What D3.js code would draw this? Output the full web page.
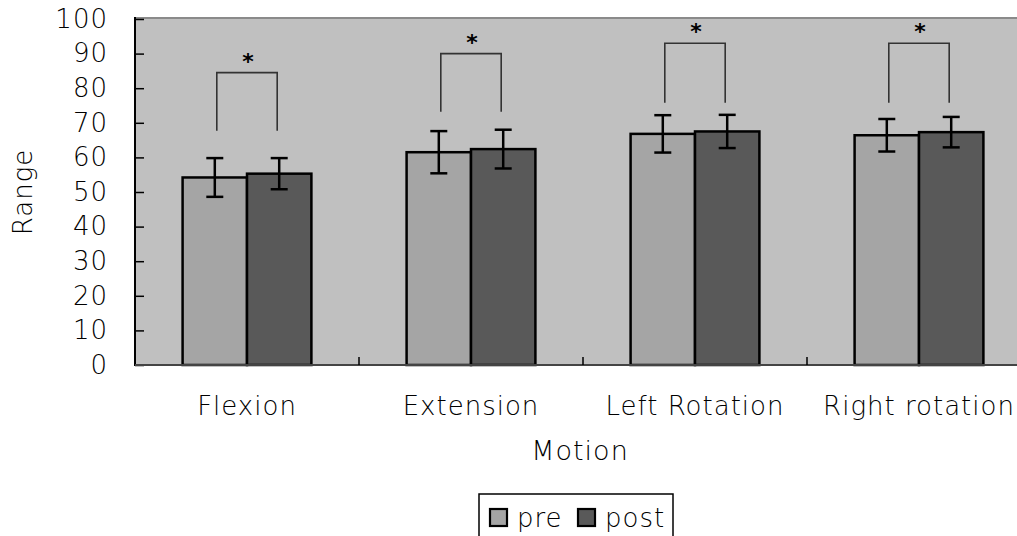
<!DOCTYPE html>
<html><head><meta charset="utf-8">
<script src="https://cdn.jsdelivr.net/npm/d3@7"></script>
<style>
html,body{margin:0;padding:0;background:#fff;overflow:hidden}
text{font-family:"DejaVu Sans",sans-serif;fill:#000;font-weight:200;letter-spacing:1px}
</style></head>
<body><svg id="c" width="1017" height="536"></svg>
<script>
const categories = ["Flexion","Extension","Left Rotation","Right rotation"];
const series = ["pre","post"];
const preMean = [54.2, 61.5, 66.8, 66.4];
const preSD   = [5.6, 6.1, 5.4, 4.7];
const postMean = [55.3, 62.4, 67.5, 67.3];
const postSD   = [4.5, 5.6, 4.8, 4.4];
const bracketTop = [84.5, 90, 93, 93];
const bracketLeg = [67.7, 73.2, 75.8, 75.8];
const yTicks = [0,10,20,30,40,50,60,70,80,90,100];
const colors = {pre:"#a5a5a5", post:"#595959"};

const svg = d3.select("#c");
const L = 135, R = 1031, T = 19, B = 365;
const x0 = d3.scaleBand().domain(categories).range([L, R]).padding(0);
const bw = x0.bandwidth();
const x1 = d3.scaleBand().domain(series).range([bw*0.2125, bw*0.7875]).padding(0);
const y = d3.scaleLinear().domain([0,100]).range([B, T]);

svg.append("rect").attr("x", L).attr("y", T).attr("width", R-L).attr("height", B-T).attr("fill", "#c0c0c0");
svg.append("line").attr("x1", L).attr("x2", R).attr("y1", T-1).attr("y2", T-1).attr("stroke", "#8a8a8a").attr("stroke-width", 2);

const data = categories.map((c,i)=>({c, vals:[
  {s:"pre", m:preMean[i], sd:preSD[i]},
  {s:"post", m:postMean[i], sd:postSD[i]}]}));

const g = svg.selectAll("g.grp").data(data).join("g").attr("class","grp")
  .attr("transform", d=>`translate(${x0(d.c)},0)`);

g.selectAll("rect").data(d=>d.vals).join("rect")
  .attr("x", d=>x1(d.s)).attr("width", x1.bandwidth())
  .attr("y", d=>y(d.m)).attr("height", d=>y(0)-y(d.m))
  .attr("fill", d=>colors[d.s]).attr("stroke", "#000").attr("stroke-width", 2.5);

const eb = g.selectAll("g.eb").data(d=>d.vals).join("g").attr("class","eb")
  .attr("stroke","#000").attr("stroke-width",2.5);
eb.append("line").attr("x1", d=>x1(d.s)+x1.bandwidth()/2).attr("x2", d=>x1(d.s)+x1.bandwidth()/2)
  .attr("y1", d=>y(d.m+d.sd)).attr("y2", d=>y(d.m-d.sd));
eb.append("line").attr("x1", d=>x1(d.s)+x1.bandwidth()/2-8.5).attr("x2", d=>x1(d.s)+x1.bandwidth()/2+8.5)
  .attr("y1", d=>y(d.m+d.sd)).attr("y2", d=>y(d.m+d.sd));
eb.append("line").attr("x1", d=>x1(d.s)+x1.bandwidth()/2-8.5).attr("x2", d=>x1(d.s)+x1.bandwidth()/2+8.5)
  .attr("y1", d=>y(d.m-d.sd)).attr("y2", d=>y(d.m-d.sd));

categories.forEach((c,i)=>{
  const xa = x0(c) + x1("pre") + x1.bandwidth()/2 + 2;
  const xb = x0(c) + x1("post") + x1.bandwidth()/2 - 2;
  svg.append("path")
    .attr("d", `M${xa},${y(bracketLeg[i])}V${y(bracketTop[i])}H${xb}V${y(bracketLeg[i])}`)
    .attr("fill","none").attr("stroke","#333").attr("stroke-width",1.6);
  svg.append("text").attr("x", (xa+xb)/2 + 1).attr("y", y(bracketTop[i]) - 4)
    .attr("text-anchor","middle").attr("font-size", 22).style("font-weight","bold").style("letter-spacing","0").text("*");
});

const ya = svg.append("g").attr("transform", `translate(${L},0)`)
  .call(d3.axisLeft(y).tickValues(yTicks).tickSize(-9).tickPadding(27).tickSizeOuter(0));
ya.select(".domain").remove();
ya.selectAll(".tick line").attr("stroke","#000").attr("stroke-width",1.5);
ya.selectAll(".tick text").attr("font-size",26).attr("font-family",null).attr("fill","#000");
svg.append("line").attr("x1",L).attr("x2",L).attr("y1",T-2).attr("y2",B+1).attr("stroke","#000").attr("stroke-width",2);

const xa = svg.append("g").attr("transform", `translate(0,${B})`)
  .call(d3.axisBottom(x0).tickSize(0).tickPadding(32));
xa.select(".domain").remove();
xa.selectAll(".tick text").attr("font-size",26).attr("font-family",null).attr("fill","#000");
svg.append("line").attr("x1",L).attr("x2",R).attr("y1",B).attr("y2",B).attr("stroke","#444").attr("stroke-width",2);
svg.selectAll("line.xt").data(categories.slice(1)).join("line").attr("class","xt")
  .attr("x1", d=>x0(d)).attr("x2", d=>x0(d)).attr("y1", B-8).attr("y2", B)
  .attr("stroke","#000").attr("stroke-width",1.5);

svg.append("text").attr("x", (L+R)/2 - 3).attr("y", 460).attr("text-anchor","middle")
  .attr("font-size",27).text("Motion");
svg.append("text").attr("transform", `translate(32,${(T+B)/2}) rotate(-90)`).attr("text-anchor","middle")
  .attr("font-size",26).text("Range");

const lg = svg.append("g");
lg.append("rect").attr("x",479).attr("y",494).attr("width",194).attr("height",60)
  .attr("fill","#fff").attr("stroke","#000").attr("stroke-width",1.5);
const items = lg.selectAll("g.it").data(series).join("g").attr("class","it")
  .attr("transform",(d,i)=>`translate(${i===0?490:578},509)`);
items.append("rect").attr("width",17).attr("height",17).attr("fill",d=>colors[d])
  .attr("stroke","#000").attr("stroke-width",2.2);
items.append("text").attr("x",27).attr("y",18).attr("font-size",26).text(d=>d);
</script></body></html>
